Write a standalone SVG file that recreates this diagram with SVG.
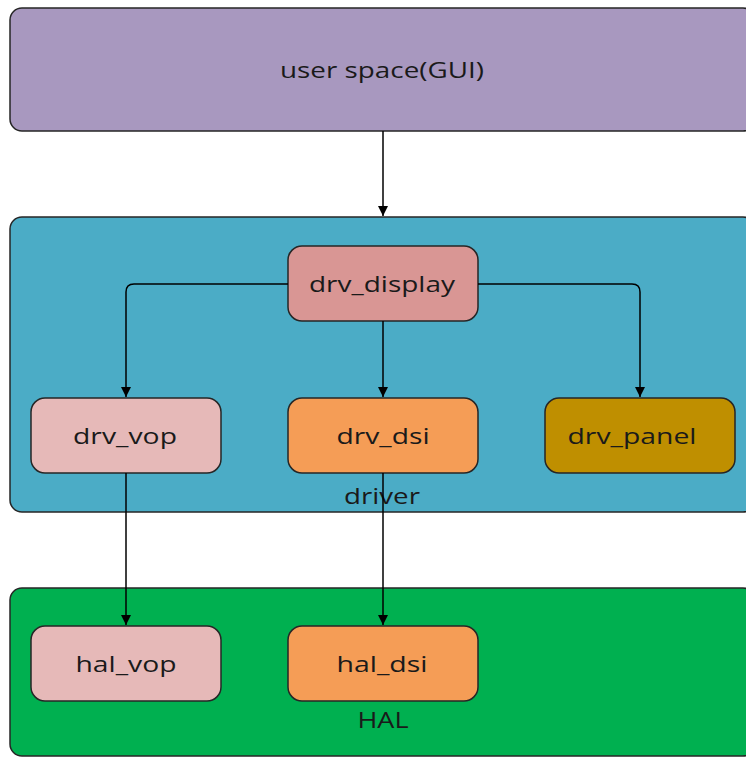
<svg xmlns="http://www.w3.org/2000/svg" width="746" height="758" viewBox="0 0 746 758">
<style>
.box{stroke:#262626;stroke-width:1.5}
.t{font-family:"Open Sans","Noto Sans",sans-serif;font-size:21px;fill:#1a1a1a;text-anchor:middle;dominant-baseline:central}
.c{fill:none;stroke:#000;stroke-width:1.5}
</style>
<defs>
<marker id="ah" viewBox="0 0 10 10" refX="10" refY="5" markerWidth="10" markerHeight="10" markerUnits="userSpaceOnUse" orient="auto">
<path d="M0,0 L10,5 L0,10 z" fill="#000"/>
</marker>
</defs>
<rect width="746" height="758" fill="#fff"/>
<g id="user">
<rect class="box" x="10" y="8" width="745" height="123" rx="12" fill="#A898BF"/>
<text class="t" x="382" y="70" textLength="204" lengthAdjust="spacingAndGlyphs">user space(GUI)</text>
</g>
<g id="driver">
<rect class="box" x="10" y="217" width="745" height="295" rx="12" fill="#4BACC6"/>
<text class="t" x="382" y="496" textLength="76" lengthAdjust="spacingAndGlyphs">driver</text>
</g>
<g id="hal">
<rect class="box" x="10" y="588" width="745" height="168" rx="12" fill="#00B050"/>
<text class="t" x="383" y="720" textLength="51" lengthAdjust="spacingAndGlyphs">HAL</text>
</g>
<g id="drv_display">
<rect class="box" x="288" y="246" width="190" height="75" rx="14" fill="#D99694"/>
<text class="t" x="382" y="284" textLength="146" lengthAdjust="spacingAndGlyphs">drv_display</text>
</g>
<g id="drv_vop">
<rect class="box" x="31" y="398" width="190" height="75" rx="14" fill="#E6B9B8"/>
<text class="t" x="125" y="436" textLength="104" lengthAdjust="spacingAndGlyphs">drv_vop</text>
</g>
<g id="drv_dsi">
<rect class="box" x="288" y="398" width="190" height="75" rx="14" fill="#F59D56"/>
<text class="t" x="383" y="436" textLength="93" lengthAdjust="spacingAndGlyphs">drv_dsi</text>
</g>
<g id="drv_panel">
<rect class="box" x="545" y="398" width="190" height="75" rx="14" fill="#BF8F00"/>
<text class="t" x="632" y="436" textLength="129" lengthAdjust="spacingAndGlyphs">drv_panel</text>
</g>
<g id="hal_vop">
<rect class="box" x="31" y="626" width="190" height="75" rx="14" fill="#E6B9B8"/>
<text class="t" x="126" y="664" textLength="101" lengthAdjust="spacingAndGlyphs">hal_vop</text>
</g>
<g id="hal_dsi">
<rect class="box" x="288" y="626" width="190" height="75" rx="14" fill="#F59D56"/>
<text class="t" x="382" y="664" textLength="91" lengthAdjust="spacingAndGlyphs">hal_dsi</text>
</g>
<g id="connectors">
<path class="c" d="M383,131 V216" marker-end="url(#ah)"/>
<path class="c" d="M288,284 H134 Q126,284 126,292 V397" marker-end="url(#ah)"/>
<path class="c" d="M383,321 V397" marker-end="url(#ah)"/>
<path class="c" d="M478,284 H632 Q640,284 640,292 V397" marker-end="url(#ah)"/>
<path class="c" d="M126,473 V625" marker-end="url(#ah)"/>
<path class="c" d="M383,473 V625" marker-end="url(#ah)"/>
</g>
</svg>
